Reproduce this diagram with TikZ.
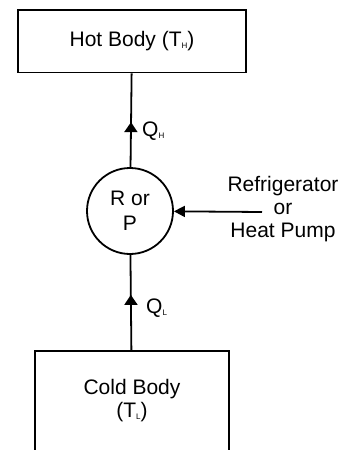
\documentclass[tikz,border=0pt]{standalone}
\usepackage{fontspec}
\setmainfont{Liberation Sans}
\usetikzlibrary{arrows.meta, decorations.markings}
\newcommand{\lowsub}[1]{\raisebox{-2pt}{\fontsize{8}{8}\selectfont #1}}
\tikzset{
  bodybox/.style={rectangle, draw=black, line width=1.8pt, inner sep=0pt},
  flowline/.style={line width=1.8pt},
  midtip/.style={postaction={decorate}, decoration={markings, mark=at position #1 with {\arrow{Triangle[length=10pt,width=13pt]}}}},
  bigtext/.style={font=\fontsize{21}{23}\selectfont, align=center, inner sep=0pt}
}
\begin{document}
\begin{tikzpicture}[x=1pt,y=-1pt]
\useasboundingbox (0,0) rectangle (342,450);
\clip (0,0) rectangle (342,450);
\node[bodybox, minimum width=228pt, minimum height=62.5pt, font=\fontsize{21}{23}\selectfont] (hot) at (132,41.25) {Hot Body (T\lowsub{H})};
\node[bodybox, minimum width=194pt, minimum height=120pt] (cold) at (132,411) {};
\node[bigtext] (coldtext) at (132,401) {Cold Body\\(T\lowsub{L})};
\node[circle, draw=black, line width=1.8pt, minimum size=86pt, inner sep=0pt, align=center, font=\fontsize{21}{25}\selectfont] (rp) at (130,211) {R or\\P};
\node[bigtext] (device) at (283,209) {Refrigerator\\or\\Heat Pump};
\coordinate (devsrc) at (262,212);
\draw[flowline, midtip=0.48] (rp) -- (hot);
\draw[flowline, midtip=0.58] (cold) -- (rp);
\draw[flowline, -{Triangle[length=11pt,width=11pt]}] (devsrc) -- (rp);
\node[anchor=west, inner sep=0pt, font=\fontsize{21}{23}\selectfont] (qhot) at (142,131) {Q\lowsub{H}};
\node[anchor=west, inner sep=0pt, font=\fontsize{21}{23}\selectfont] (qcold) at (146,308) {Q\lowsub{L}};
\end{tikzpicture}
\end{document}
